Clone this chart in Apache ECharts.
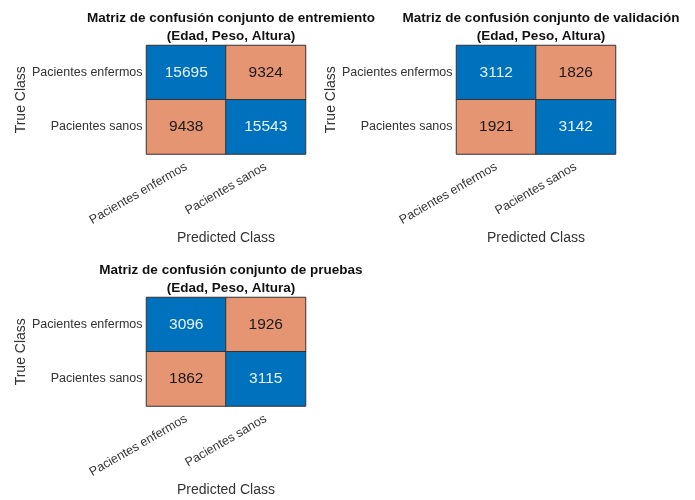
<!DOCTYPE html>
<html><head><meta charset="utf-8">
<script src="https://cdn.jsdelivr.net/npm/echarts@6/dist/echarts.min.js"></script>
<style>html,body{margin:0;padding:0;background:#fff}#c{width:695px;height:500px}</style>
</head><body><div id="c"></div>
<script>
const classes = ['Pacientes enfermos', 'Pacientes sanos'];
const titles = [
  'Matriz de confusión conjunto de entremiento\n(Edad, Peso, Altura)',
  'Matriz de confusión conjunto de validación\n(Edad, Peso, Altura)',
  'Matriz de confusión conjunto de pruebas\n(Edad, Peso, Altura)'
];
// rows = true class, cols = predicted class
const trainMatrix = [[15695, 9324], [9438, 15543]];
const valMatrix = [[3112, 1826], [1921, 3142]];
const testMatrix = [[3096, 1926], [1862, 3115]];
const matrices = [trainMatrix, valMatrix, testMatrix];

const grids = [
  {left: 146.5, top: 45.5, width: 159, height: 108.5},
  {left: 456.5, top: 45.5, width: 159, height: 108.5},
  {left: 146.5, top: 297.5, width: 159, height: 108.5}
];
const FONT = "'Liberation Sans', Arial, Helvetica, sans-serif";
const BLUE = '#0072BD', SALMON = '#E69573';

const option = {
  animation: false,
  backgroundColor: '#fff',
  title: [], grid: [], xAxis: [], yAxis: [], series: []
};
matrices.forEach((m, i) => {
  const g = grids[i];
  option.grid.push(Object.assign({containLabel: false}, g));
  option.title.push({
    text: titles[i], left: g.left + g.width / 2, top: g.top - 41, textAlign: 'center',
    textStyle: {fontFamily: FONT, fontSize: 13.5, fontWeight: 'bold', color: '#111', lineHeight: 18}
  });
  option.xAxis.push({
    type: 'category', gridIndex: i, data: classes,
    name: 'Predicted Class', nameLocation: 'middle', nameGap: 77,
    nameTextStyle: {fontFamily: FONT, fontSize: 14, color: '#333'},
    axisLine: {show: false}, axisTick: {show: false}, splitLine: {show: false},
    axisLabel: {rotate: 30, fontFamily: FONT, fontSize: 12.5, color: '#333', margin: 12, interval: 0}
  });
  option.yAxis.push({
    type: 'category', gridIndex: i, data: classes, inverse: true,
    name: 'True Class', nameLocation: 'middle', nameGap: 117, nameRotate: 90,
    nameTextStyle: {fontFamily: FONT, fontSize: 14, color: '#333'},
    axisLine: {show: false}, axisTick: {show: false}, splitLine: {show: false},
    axisLabel: {fontFamily: FONT, fontSize: 12.5, color: '#333', margin: 4, interval: 0}
  });
  const data = [];
  m.forEach((row, r) => row.forEach((v, c) => {
    const diag = r === c;
    data.push({
      value: [c, r, v],
      itemStyle: {color: diag ? BLUE : SALMON},
      label: {color: diag ? '#e8f1fa' : '#1a1a1a'}
    });
  }));
  option.series.push({
    type: 'heatmap', xAxisIndex: i, yAxisIndex: i, data: data,
    itemStyle: {borderColor: '#333', borderWidth: 1},
    label: {show: true, fontFamily: FONT, fontSize: 15.5, formatter: p => String(p.value[2])}
  });
});
const chart = echarts.init(document.getElementById('c'), null, {renderer: 'canvas'});
chart.setOption(option);
</script></body></html>
